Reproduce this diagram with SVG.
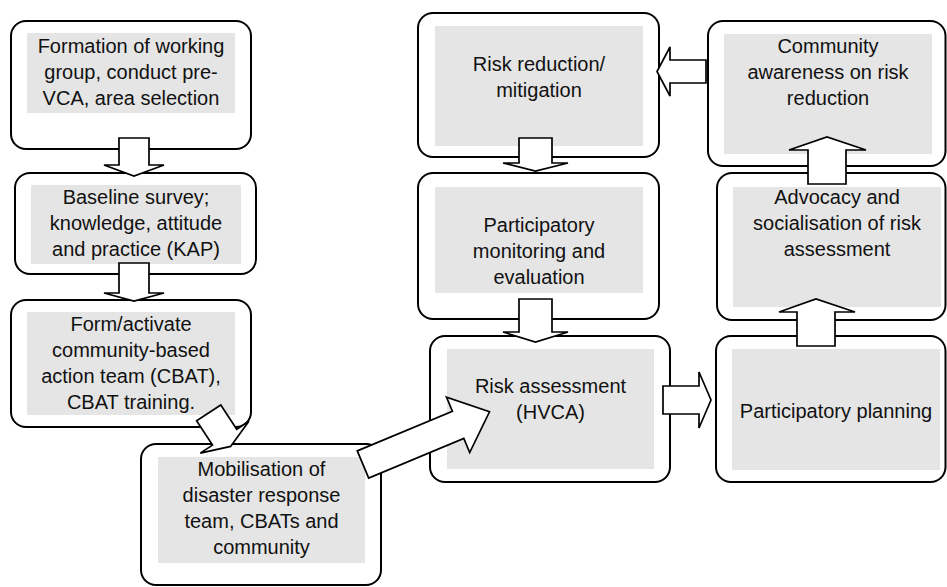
<svg xmlns="http://www.w3.org/2000/svg" width="947" height="587" viewBox="0 0 947 587">
<style>
.box{fill:#ffffff;stroke:#000000;stroke-width:2}
.bg{fill:#e5e5e5;stroke:none}
.t{font-family:"Liberation Sans",Arial,sans-serif;font-size:20px;fill:#111111;text-anchor:middle}
.arr{fill:#ffffff;stroke:#000000;stroke-width:1.7;stroke-linejoin:miter}
</style>
<rect width="947" height="587" fill="#ffffff"/>
<g id="n1">
<rect class="box" x="11" y="21" width="240" height="128" rx="15"/>
<rect class="bg" x="27" y="33" width="208" height="80"/>
<text class="t" x="131" y="53">Formation of working</text>
<text class="t" x="131" y="79">group, conduct pre-</text>
<text class="t" x="131" y="105">VCA, area selection</text>
</g>
<g id="n2">
<rect class="box" x="15" y="173" width="241" height="101" rx="15"/>
<rect class="bg" x="31" y="185" width="210" height="79"/>
<text class="t" x="136" y="204">Baseline survey;</text>
<text class="t" x="136" y="230">knowledge, attitude</text>
<text class="t" x="136" y="256">and practice (KAP)</text>
</g>
<g id="n3">
<rect class="box" x="11" y="300" width="240" height="127" rx="15"/>
<rect class="bg" x="27" y="312" width="208" height="103"/>
<text class="t" x="131" y="331">Form/activate</text>
<text class="t" x="131" y="357">community-based</text>
<text class="t" x="131" y="383">action team (CBAT),</text>
<text class="t" x="131" y="409">CBAT training.</text>
</g>
<g id="n4">
<rect class="box" x="141" y="444" width="240" height="141" rx="15"/>
<rect class="bg" x="158" y="457" width="207" height="106"/>
<text class="t" x="261.5" y="476">Mobilisation of</text>
<text class="t" x="261.5" y="502">disaster response</text>
<text class="t" x="261.5" y="528">team, CBATs and</text>
<text class="t" x="261.5" y="554">community</text>
</g>
<g id="n5">
<rect class="box" x="418" y="13" width="241" height="144" rx="15"/>
<rect class="bg" x="435" y="26" width="208" height="120"/>
<text class="t" x="539" y="71">Risk reduction/</text>
<text class="t" x="539" y="97">mitigation</text>
</g>
<g id="n6">
<rect class="box" x="418" y="173" width="241" height="146" rx="15"/>
<rect class="bg" x="435" y="187" width="208" height="106"/>
<text class="t" x="539" y="232">Participatory</text>
<text class="t" x="539" y="258">monitoring and</text>
<text class="t" x="539" y="284">evaluation</text>
</g>
<g id="n7">
<rect class="box" x="430" y="336" width="240" height="146" rx="15"/>
<rect class="bg" x="447" y="349" width="207" height="120"/>
<text class="t" x="550.5" y="393">Risk assessment</text>
<text class="t" x="550.5" y="419">(HVCA)</text>
</g>
<g id="n8">
<rect class="box" x="708" y="21" width="237.5" height="145" rx="15"/>
<rect class="bg" x="724" y="34" width="208" height="120"/>
<text class="t" x="828" y="53">Community</text>
<text class="t" x="828" y="79">awareness on risk</text>
<text class="t" x="828" y="105">reduction</text>
</g>
<g id="n9">
<rect class="box" x="717" y="173" width="228.5" height="147" rx="15"/>
<rect class="bg" x="733" y="187" width="208" height="120"/>
<text class="t" x="837" y="204">Advocacy and</text>
<text class="t" x="837" y="230">socialisation of risk</text>
<text class="t" x="837" y="256">assessment</text>
</g>
<g id="n10">
<rect class="box" x="716" y="336" width="229.5" height="146" rx="15"/>
<rect class="bg" x="732" y="349" width="208" height="121"/>
<text class="t" x="836" y="418">Participatory planning</text>
</g>
<g id="connectors">
<polygon class="arr" points="119,138 149,138 149,165 164,165 134,176 104,165 119,165"/>
<polygon class="arr" points="119,263 149,263 149,293 164,293 134,301 104,293 119,293"/>
<polygon class="arr" points="220.8,405 236.7,429.3 248.9,421.3 230.6,446.4 200.3,453.1 212.5,445.1 196.6,420.8"/>
<polygon class="arr" points="357.3,450.9 452.4,411.2 446.5,397.1 489.5,411.8 469.7,452.5 463.8,438.4 368.7,478.1"/>
<polygon class="arr" points="663,386 699,386 699,372 711,400 699,428 699,414 663,414"/>
<polygon class="arr" points="797,346 797,312 779,312 816,299 855,312 835,312 835,346"/>
<polygon class="arr" points="808,184 808,150 789,150 827,137 866,150 846,150 846,184"/>
<polygon class="arr" points="706,60 706,83 670,83 670,96 657,71.5 670,47 670,60"/>
<polygon class="arr" points="519,138 552,138 552,163 568,163 535.5,171 503,163 519,163"/>
<polygon class="arr" points="519,299 552,299 552,332 568,332 535.5,342 503,332 519,332"/>
</g>
</svg>
